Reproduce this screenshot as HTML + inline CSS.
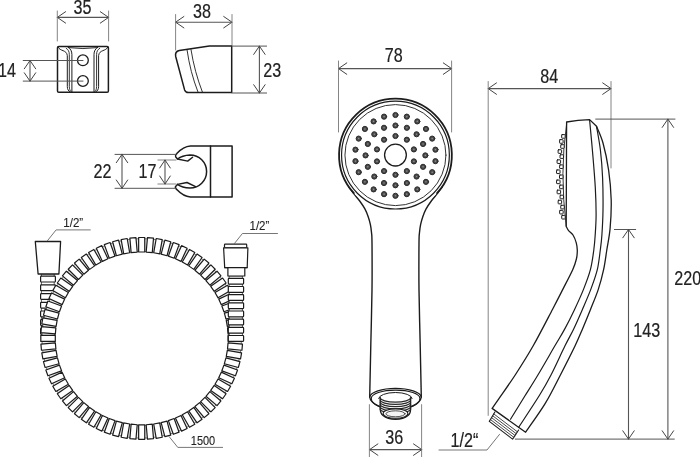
<!DOCTYPE html>
<html><head><meta charset="utf-8"><title>Shower set dimensions</title>
<style>
html,body{margin:0;padding:0;background:#fff;}
body{width:700px;height:457px;overflow:hidden;font-family:"Liberation Sans",sans-serif;}
svg{will-change:transform;display:block;font-family:"Liberation Sans",sans-serif;}
</style></head><body>
<svg width="700" height="457" viewBox="0 0 700 457" stroke-linecap="round" stroke-linejoin="round">
<rect width="700" height="457" fill="#fff"/>
<line x1="57.30" y1="17.40" x2="108.60" y2="17.40" stroke="#555" stroke-width="1.1"/>
<path d="M65.60,11.70 L57.30,17.40 L65.60,23.10" stroke="#444" stroke-width="1.0" fill="none" />
<path d="M100.30,23.10 L108.60,17.40 L100.30,11.70" stroke="#444" stroke-width="1.0" fill="none" />
<line x1="57.30" y1="11.00" x2="57.30" y2="41.00" stroke="#777" stroke-width="0.9"/>
<line x1="108.60" y1="11.00" x2="108.60" y2="41.00" stroke="#777" stroke-width="0.9"/>
<text transform="translate(82.50,13.50) scale(0.815,1)" font-size="19.8" text-anchor="middle" fill="#222" stroke="#222" stroke-width="0.2">35</text>
<path d="M58.8,46.4 H107.1 Q108.4,46.4 108.4,47.7 V91 Q108.4,92.3 107.1,92.3 H58.8 Q57.5,92.3 57.5,91 V47.7 Q57.5,46.4 58.8,46.4 Z" stroke="#1c1c1c" stroke-width="1.5" fill="none" />
<path d="M58.20,47.3 C60.00,51.5 66.50,49.5 67.30,55.5 V86.5 C67.30,89.5 68.50,91 70.00,91.8" stroke="#1c1c1c" stroke-width="1.0" fill="none" />
<path d="M66.20,48.3 C68.30,49.6 69.30,51.5 69.30,54.5 V86.5 C69.30,89 70.00,90.5 70.80,91.4" stroke="#1c1c1c" stroke-width="0.9" fill="none" />
<path d="M68.20,47.3 C70.50,48.8 71.90,51 71.90,54.5 V92" stroke="#1c1c1c" stroke-width="1.0" fill="none" />
<path d="M107.70,47.3 C105.90,51.5 99.40,49.5 98.60,55.5 V86.5 C98.60,89.5 97.40,91 95.90,91.8" stroke="#1c1c1c" stroke-width="1.0" fill="none" />
<path d="M99.70,48.3 C97.60,49.6 96.60,51.5 96.60,54.5 V86.5 C96.60,89 95.90,90.5 95.10,91.4" stroke="#1c1c1c" stroke-width="0.9" fill="none" />
<path d="M97.70,47.3 C95.40,48.8 94.00,51 94.00,54.5 V92" stroke="#1c1c1c" stroke-width="1.0" fill="none" />
<path d="M68.2,47.6 Q82.9,49.6 97.7,47.6" stroke="#1c1c1c" stroke-width="0.9" fill="none" />
<circle cx="82.9" cy="60.3" r="5.4" fill="#fff" stroke="#1c1c1c" stroke-width="1.3"/>
<circle cx="82.9" cy="81" r="5.4" fill="#fff" stroke="#1c1c1c" stroke-width="1.3"/>
<line x1="23.20" y1="60.50" x2="83.00" y2="60.50" stroke="#555" stroke-width="1.0"/>
<line x1="23.20" y1="81.10" x2="83.00" y2="81.10" stroke="#555" stroke-width="1.0"/>
<line x1="30.00" y1="60.50" x2="30.00" y2="81.10" stroke="#555" stroke-width="1.1"/>
<path d="M35.70,68.80 L30.00,60.50 L24.30,68.80" stroke="#444" stroke-width="1.0" fill="none" />
<path d="M24.30,72.80 L30.00,81.10 L35.70,72.80" stroke="#444" stroke-width="1.0" fill="none" />
<text transform="translate(-2.00,77.00) scale(0.815,1)" font-size="19.8" text-anchor="start" fill="#222" stroke="#222" stroke-width="0.2">14</text>
<line x1="175.60" y1="22.20" x2="232.00" y2="22.20" stroke="#555" stroke-width="1.1"/>
<path d="M183.90,16.50 L175.60,22.20 L183.90,27.90" stroke="#444" stroke-width="1.0" fill="none" />
<path d="M223.70,27.90 L232.00,22.20 L223.70,16.50" stroke="#444" stroke-width="1.0" fill="none" />
<line x1="175.60" y1="14.50" x2="175.60" y2="50.00" stroke="#777" stroke-width="0.9"/>
<line x1="232.00" y1="14.50" x2="232.00" y2="45.00" stroke="#777" stroke-width="0.9"/>
<text transform="translate(202.00,18.20) scale(0.815,1)" font-size="19.8" text-anchor="middle" fill="#222" stroke="#222" stroke-width="0.2">38</text>
<path d="M179.3,50.6 L209.4,46 H231.7 V92.5 H188.3 Q185.6,92.5 184.6,89.9 L175.7,56.5 Q174.7,51.6 179.3,50.6 Z" stroke="#1c1c1c" stroke-width="1.5" fill="none" />
<path d="M187.1,50.2 Q190.2,72 197.9,91.8" stroke="#1c1c1c" stroke-width="0.9" fill="none" />
<path d="M191,49.6 Q194.6,72 202.3,91.8" stroke="#1c1c1c" stroke-width="0.9" fill="none" />
<line x1="232.00" y1="46.10" x2="266.60" y2="46.10" stroke="#555" stroke-width="1.0"/>
<line x1="232.00" y1="93.00" x2="266.60" y2="93.00" stroke="#555" stroke-width="1.0"/>
<line x1="259.40" y1="46.10" x2="259.40" y2="93.00" stroke="#555" stroke-width="1.1"/>
<path d="M265.10,54.40 L259.40,46.10 L253.70,54.40" stroke="#444" stroke-width="1.0" fill="none" />
<path d="M253.70,84.70 L259.40,93.00 L265.10,84.70" stroke="#444" stroke-width="1.0" fill="none" />
<text transform="translate(263.20,77.00) scale(0.815,1)" font-size="19.8" text-anchor="start" fill="#222" stroke="#222" stroke-width="0.2">23</text>
<path d="M210.5,146.1 H232.1 V197 H210.5 Z" stroke="#1c1c1c" stroke-width="1.5" fill="none" />
<path d="M210.5,146.1 H190.4 C185,146.4 179.8,150.4 176.8,153.6 C175.4,155 174.9,155.6 175.6,156.8 L177.5,159 C180.5,156.6 185,155.1 190,154.9 A16.4,16.4 0 0 1 190,188.1 C185,187.9 180.5,186.6 177.5,184.4 L175.6,186.4 C174.9,187.5 175.4,188.2 176.8,189.6 C179.8,192.8 185,196.7 190.4,197 H210.5" stroke="#1c1c1c" stroke-width="1.5" fill="none" />
<path d="M177.5,159 L187.7,161.1 L192.6,157.2" stroke="#1c1c1c" stroke-width="1.4" fill="none" />
<path d="M177.5,184.4 L187,182.5 L195.6,186.6" stroke="#1c1c1c" stroke-width="1.4" fill="none" />
<line x1="115.00" y1="154.40" x2="176.00" y2="154.40" stroke="#555" stroke-width="1.0"/>
<line x1="115.00" y1="188.30" x2="176.00" y2="188.30" stroke="#555" stroke-width="1.0"/>
<line x1="122.00" y1="154.40" x2="122.00" y2="188.30" stroke="#555" stroke-width="1.1"/>
<path d="M127.70,162.70 L122.00,154.40 L116.30,162.70" stroke="#444" stroke-width="1.0" fill="none" />
<path d="M116.30,180.00 L122.00,188.30 L127.70,180.00" stroke="#444" stroke-width="1.0" fill="none" />
<line x1="157.90" y1="160.00" x2="176.00" y2="160.00" stroke="#777" stroke-width="0.9"/>
<line x1="157.90" y1="184.00" x2="176.00" y2="184.00" stroke="#777" stroke-width="0.9"/>
<line x1="165.00" y1="160.00" x2="165.00" y2="184.00" stroke="#555" stroke-width="1.1"/>
<path d="M170.30,168.00 L165.00,160.00 L159.70,168.00" stroke="#444" stroke-width="1.0" fill="none" />
<path d="M159.70,176.00 L165.00,184.00 L170.30,176.00" stroke="#444" stroke-width="1.0" fill="none" />
<text transform="translate(93.50,177.70) scale(0.815,1)" font-size="19.8" text-anchor="start" fill="#222" stroke="#222" stroke-width="0.2">22</text>
<text transform="translate(138.50,177.70) scale(0.815,1)" font-size="19.8" text-anchor="start" fill="#222" stroke="#222" stroke-width="0.2">17</text>
<rect x="41.800000000000004" y="273.9" width="12.399999999999997" height="64.10000000000002" fill="#fff" stroke="#333" stroke-width="0.8"/>
<path d="M41.4,276.20 H54.6 Q55.4,276.20 55.4,277.00 V281.20 Q55.4,282.00 54.6,282.00 H41.4 Q40.6,282.00 40.6,281.20 V277.00 Q40.6,276.20 41.4,276.20 Z" stroke="#1c1c1c" stroke-width="1.2" fill="#fff" />
<path d="M41.4,284.90 H54.6 Q55.4,284.90 55.4,285.70 V289.90 Q55.4,290.70 54.6,290.70 H41.4 Q40.6,290.70 40.6,289.90 V285.70 Q40.6,284.90 41.4,284.90 Z" stroke="#1c1c1c" stroke-width="1.2" fill="#fff" />
<path d="M41.4,293.60 H54.6 Q55.4,293.60 55.4,294.40 V298.60 Q55.4,299.40 54.6,299.40 H41.4 Q40.6,299.40 40.6,298.60 V294.40 Q40.6,293.60 41.4,293.60 Z" stroke="#1c1c1c" stroke-width="1.2" fill="#fff" />
<path d="M41.4,302.30 H54.6 Q55.4,302.30 55.4,303.10 V307.30 Q55.4,308.10 54.6,308.10 H41.4 Q40.6,308.10 40.6,307.30 V303.10 Q40.6,302.30 41.4,302.30 Z" stroke="#1c1c1c" stroke-width="1.2" fill="#fff" />
<path d="M41.4,311.00 H54.6 Q55.4,311.00 55.4,311.80 V316.00 Q55.4,316.80 54.6,316.80 H41.4 Q40.6,316.80 40.6,316.00 V311.80 Q40.6,311.00 41.4,311.00 Z" stroke="#1c1c1c" stroke-width="1.2" fill="#fff" />
<path d="M41.4,319.70 H54.6 Q55.4,319.70 55.4,320.50 V324.70 Q55.4,325.50 54.6,325.50 H41.4 Q40.6,325.50 40.6,324.70 V320.50 Q40.6,319.70 41.4,319.70 Z" stroke="#1c1c1c" stroke-width="1.2" fill="#fff" />
<path d="M41.4,328.40 H54.6 Q55.4,328.40 55.4,329.20 V333.40 Q55.4,334.20 54.6,334.20 H41.4 Q40.6,334.20 40.6,333.40 V329.20 Q40.6,328.40 41.4,328.40 Z" stroke="#1c1c1c" stroke-width="1.2" fill="#fff" />
<path d="M143.31,250.99 L143.85,238.70 L148.25,238.89 L147.71,251.18 Z" stroke="#444" stroke-width="0.7" fill="#ececec" />
<path d="M150.93,251.46 L152.53,239.27 L156.89,239.84 L155.29,252.03 Z" stroke="#444" stroke-width="0.7" fill="#ececec" />
<path d="M158.47,252.60 L161.13,240.59 L165.43,241.54 L162.76,253.55 Z" stroke="#444" stroke-width="0.7" fill="#ececec" />
<path d="M165.88,254.38 L169.58,242.65 L173.78,243.98 L170.08,255.71 Z" stroke="#444" stroke-width="0.7" fill="#ececec" />
<path d="M173.11,256.81 L177.82,245.45 L181.89,247.13 L177.18,258.49 Z" stroke="#444" stroke-width="0.7" fill="#ececec" />
<path d="M180.11,259.86 L185.78,248.95 L189.69,250.98 L184.01,261.89 Z" stroke="#444" stroke-width="0.7" fill="#ececec" />
<path d="M186.80,263.51 L193.41,253.13 L197.12,255.50 L190.52,265.87 Z" stroke="#444" stroke-width="0.7" fill="#ececec" />
<path d="M193.16,267.72 L200.65,257.96 L204.14,260.64 L196.65,270.40 Z" stroke="#444" stroke-width="0.7" fill="#ececec" />
<path d="M199.12,272.48 L207.43,263.41 L210.68,266.38 L202.37,275.45 Z" stroke="#444" stroke-width="0.7" fill="#ececec" />
<path d="M204.65,277.73 L213.72,269.42 L216.69,272.67 L207.62,280.98 Z" stroke="#444" stroke-width="0.7" fill="#ececec" />
<path d="M209.70,283.45 L219.46,275.96 L222.14,279.45 L212.38,286.94 Z" stroke="#444" stroke-width="0.7" fill="#ececec" />
<path d="M214.23,289.58 L224.60,282.98 L226.97,286.69 L216.59,293.30 Z" stroke="#444" stroke-width="0.7" fill="#ececec" />
<path d="M218.21,296.09 L229.12,290.41 L231.15,294.32 L220.24,299.99 Z" stroke="#444" stroke-width="0.7" fill="#ececec" />
<path d="M221.61,302.92 L232.97,298.21 L234.65,302.28 L223.29,306.99 Z" stroke="#444" stroke-width="0.7" fill="#ececec" />
<path d="M224.39,310.02 L236.12,306.32 L237.45,310.52 L225.72,314.22 Z" stroke="#444" stroke-width="0.7" fill="#ececec" />
<path d="M226.55,317.34 L238.56,314.67 L239.51,318.97 L227.50,321.63 Z" stroke="#444" stroke-width="0.7" fill="#ececec" />
<path d="M228.07,324.81 L240.26,323.21 L240.83,327.57 L228.64,329.17 Z" stroke="#444" stroke-width="0.7" fill="#ececec" />
<path d="M228.92,332.39 L241.21,331.85 L241.40,336.25 L229.11,336.79 Z" stroke="#444" stroke-width="0.7" fill="#ececec" />
<path d="M229.11,340.01 L241.40,340.55 L241.21,344.95 L228.92,344.41 Z" stroke="#444" stroke-width="0.7" fill="#ececec" />
<path d="M228.64,347.63 L240.83,349.23 L240.26,353.59 L228.07,351.99 Z" stroke="#444" stroke-width="0.7" fill="#ececec" />
<path d="M227.50,355.17 L239.51,357.83 L238.56,362.13 L226.55,359.46 Z" stroke="#444" stroke-width="0.7" fill="#ececec" />
<path d="M225.72,362.58 L237.45,366.28 L236.12,370.48 L224.39,366.78 Z" stroke="#444" stroke-width="0.7" fill="#ececec" />
<path d="M223.29,369.81 L234.65,374.52 L232.97,378.59 L221.61,373.88 Z" stroke="#444" stroke-width="0.7" fill="#ececec" />
<path d="M220.24,376.81 L231.15,382.48 L229.12,386.39 L218.21,380.71 Z" stroke="#444" stroke-width="0.7" fill="#ececec" />
<path d="M216.59,383.50 L226.97,390.11 L224.60,393.82 L214.23,387.22 Z" stroke="#444" stroke-width="0.7" fill="#ececec" />
<path d="M212.38,389.86 L222.14,397.35 L219.46,400.84 L209.70,393.35 Z" stroke="#444" stroke-width="0.7" fill="#ececec" />
<path d="M207.62,395.82 L216.69,404.13 L213.72,407.38 L204.65,399.07 Z" stroke="#444" stroke-width="0.7" fill="#ececec" />
<path d="M202.37,401.35 L210.68,410.42 L207.43,413.39 L199.12,404.32 Z" stroke="#444" stroke-width="0.7" fill="#ececec" />
<path d="M196.65,406.40 L204.14,416.16 L200.65,418.84 L193.16,409.08 Z" stroke="#444" stroke-width="0.7" fill="#ececec" />
<path d="M190.52,410.93 L197.12,421.30 L193.41,423.67 L186.80,413.29 Z" stroke="#444" stroke-width="0.7" fill="#ececec" />
<path d="M184.01,414.91 L189.69,425.82 L185.78,427.85 L180.11,416.94 Z" stroke="#444" stroke-width="0.7" fill="#ececec" />
<path d="M177.18,418.31 L181.89,429.67 L177.82,431.35 L173.11,419.99 Z" stroke="#444" stroke-width="0.7" fill="#ececec" />
<path d="M170.08,421.09 L173.78,432.82 L169.58,434.15 L165.88,422.42 Z" stroke="#444" stroke-width="0.7" fill="#ececec" />
<path d="M162.76,423.25 L165.43,435.26 L161.13,436.21 L158.47,424.20 Z" stroke="#444" stroke-width="0.7" fill="#ececec" />
<path d="M155.29,424.77 L156.89,436.96 L152.53,437.53 L150.93,425.34 Z" stroke="#444" stroke-width="0.7" fill="#ececec" />
<path d="M147.71,425.62 L148.25,437.91 L143.85,438.10 L143.31,425.81 Z" stroke="#444" stroke-width="0.7" fill="#ececec" />
<path d="M140.09,425.81 L139.55,438.10 L135.15,437.91 L135.69,425.62 Z" stroke="#444" stroke-width="0.7" fill="#ececec" />
<path d="M132.47,425.34 L130.87,437.53 L126.51,436.96 L128.11,424.77 Z" stroke="#444" stroke-width="0.7" fill="#ececec" />
<path d="M124.93,424.20 L122.27,436.21 L117.97,435.26 L120.64,423.25 Z" stroke="#444" stroke-width="0.7" fill="#ececec" />
<path d="M117.52,422.42 L113.82,434.15 L109.62,432.82 L113.32,421.09 Z" stroke="#444" stroke-width="0.7" fill="#ececec" />
<path d="M110.29,419.99 L105.58,431.35 L101.51,429.67 L106.22,418.31 Z" stroke="#444" stroke-width="0.7" fill="#ececec" />
<path d="M103.29,416.94 L97.62,427.85 L93.71,425.82 L99.39,414.91 Z" stroke="#444" stroke-width="0.7" fill="#ececec" />
<path d="M96.60,413.29 L89.99,423.67 L86.28,421.30 L92.88,410.93 Z" stroke="#444" stroke-width="0.7" fill="#ececec" />
<path d="M90.24,409.08 L82.75,418.84 L79.26,416.16 L86.75,406.40 Z" stroke="#444" stroke-width="0.7" fill="#ececec" />
<path d="M84.28,404.32 L75.97,413.39 L72.72,410.42 L81.03,401.35 Z" stroke="#444" stroke-width="0.7" fill="#ececec" />
<path d="M78.75,399.07 L69.68,407.38 L66.71,404.13 L75.78,395.82 Z" stroke="#444" stroke-width="0.7" fill="#ececec" />
<path d="M73.70,393.35 L63.94,400.84 L61.26,397.35 L71.02,389.86 Z" stroke="#444" stroke-width="0.7" fill="#ececec" />
<path d="M69.17,387.22 L58.80,393.82 L56.43,390.11 L66.81,383.50 Z" stroke="#444" stroke-width="0.7" fill="#ececec" />
<path d="M65.19,380.71 L54.28,386.39 L52.25,382.48 L63.16,376.81 Z" stroke="#444" stroke-width="0.7" fill="#ececec" />
<path d="M61.79,373.88 L50.43,378.59 L48.75,374.52 L60.11,369.81 Z" stroke="#444" stroke-width="0.7" fill="#ececec" />
<path d="M59.01,366.78 L47.28,370.48 L45.95,366.28 L57.68,362.58 Z" stroke="#444" stroke-width="0.7" fill="#ececec" />
<path d="M56.85,359.46 L44.84,362.13 L43.89,357.83 L55.90,355.17 Z" stroke="#444" stroke-width="0.7" fill="#ececec" />
<path d="M55.33,351.99 L43.14,353.59 L42.57,349.23 L54.76,347.63 Z" stroke="#444" stroke-width="0.7" fill="#ececec" />
<path d="M54.48,344.41 L42.19,344.95 L42.00,340.55 L54.29,340.01 Z" stroke="#444" stroke-width="0.7" fill="#ececec" />
<path d="M54.29,336.79 L42.00,336.25 L42.19,331.85 L54.48,332.39 Z" stroke="#444" stroke-width="0.7" fill="#ececec" />
<path d="M54.76,329.17 L42.57,327.57 L43.14,323.21 L55.33,324.81 Z" stroke="#444" stroke-width="0.7" fill="#ececec" />
<path d="M55.90,321.63 L43.89,318.97 L44.84,314.67 L56.85,317.34 Z" stroke="#444" stroke-width="0.7" fill="#ececec" />
<path d="M57.68,314.22 L45.95,310.52 L47.28,306.32 L59.01,310.02 Z" stroke="#444" stroke-width="0.7" fill="#ececec" />
<path d="M60.11,306.99 L48.75,302.28 L50.43,298.21 L61.79,302.92 Z" stroke="#444" stroke-width="0.7" fill="#ececec" />
<path d="M63.16,299.99 L52.25,294.32 L54.28,290.41 L65.19,296.09 Z" stroke="#444" stroke-width="0.7" fill="#ececec" />
<path d="M66.81,293.30 L56.43,286.69 L58.80,282.98 L69.17,289.58 Z" stroke="#444" stroke-width="0.7" fill="#ececec" />
<path d="M71.02,286.94 L61.26,279.45 L63.94,275.96 L73.70,283.45 Z" stroke="#444" stroke-width="0.7" fill="#ececec" />
<path d="M75.78,280.98 L66.71,272.67 L69.68,269.42 L78.75,277.73 Z" stroke="#444" stroke-width="0.7" fill="#ececec" />
<path d="M81.03,275.45 L72.72,266.38 L75.97,263.41 L84.28,272.48 Z" stroke="#444" stroke-width="0.7" fill="#ececec" />
<path d="M86.75,270.40 L79.26,260.64 L82.75,257.96 L90.24,267.72 Z" stroke="#444" stroke-width="0.7" fill="#ececec" />
<path d="M92.88,265.87 L86.28,255.50 L89.99,253.13 L96.60,263.51 Z" stroke="#444" stroke-width="0.7" fill="#ececec" />
<path d="M99.39,261.89 L93.71,250.98 L97.62,248.95 L103.29,259.86 Z" stroke="#444" stroke-width="0.7" fill="#ececec" />
<path d="M106.22,258.49 L101.51,247.13 L105.58,245.45 L110.29,256.81 Z" stroke="#444" stroke-width="0.7" fill="#ececec" />
<path d="M113.32,255.71 L109.62,243.98 L113.82,242.65 L117.52,254.38 Z" stroke="#444" stroke-width="0.7" fill="#ececec" />
<path d="M120.64,253.55 L117.97,241.54 L122.27,240.59 L124.93,252.60 Z" stroke="#444" stroke-width="0.7" fill="#ececec" />
<path d="M128.11,252.03 L126.51,239.84 L130.87,239.27 L132.47,251.46 Z" stroke="#444" stroke-width="0.7" fill="#ececec" />
<path d="M135.69,251.18 L135.15,238.89 L139.55,238.70 L140.09,250.99 Z" stroke="#444" stroke-width="0.7" fill="#ececec" />
<path d="M138.65,252.00 L138.65,237.50 L144.75,237.50 L144.75,252.00 Z" stroke="#1c1c1c" stroke-width="1.2" fill="#fff" />
<path d="M146.19,252.06 L147.46,237.62 L153.53,238.15 L152.27,252.59 Z" stroke="#1c1c1c" stroke-width="1.2" fill="#fff" />
<path d="M153.70,252.78 L156.22,238.50 L162.22,239.56 L159.71,253.84 Z" stroke="#1c1c1c" stroke-width="1.2" fill="#fff" />
<path d="M161.12,254.15 L164.87,240.15 L170.76,241.73 L167.01,255.73 Z" stroke="#1c1c1c" stroke-width="1.2" fill="#fff" />
<path d="M168.38,256.17 L173.34,242.54 L179.08,244.63 L174.12,258.25 Z" stroke="#1c1c1c" stroke-width="1.2" fill="#fff" />
<path d="M175.45,258.81 L181.58,245.66 L187.11,248.24 L180.98,261.38 Z" stroke="#1c1c1c" stroke-width="1.2" fill="#fff" />
<path d="M182.26,262.05 L189.51,249.49 L194.79,252.54 L187.54,265.10 Z" stroke="#1c1c1c" stroke-width="1.2" fill="#fff" />
<path d="M188.76,265.88 L197.08,254.00 L202.07,257.50 L193.76,269.37 Z" stroke="#1c1c1c" stroke-width="1.2" fill="#fff" />
<path d="M194.90,270.25 L204.22,259.15 L208.89,263.07 L199.57,274.17 Z" stroke="#1c1c1c" stroke-width="1.2" fill="#fff" />
<path d="M200.64,275.15 L210.89,264.90 L215.20,269.21 L204.95,279.46 Z" stroke="#1c1c1c" stroke-width="1.2" fill="#fff" />
<path d="M205.93,280.53 L217.03,271.21 L220.95,275.88 L209.85,285.20 Z" stroke="#1c1c1c" stroke-width="1.2" fill="#fff" />
<path d="M210.73,286.34 L222.60,278.03 L226.10,283.02 L214.22,291.34 Z" stroke="#1c1c1c" stroke-width="1.2" fill="#fff" />
<path d="M215.00,292.56 L227.56,285.31 L230.61,290.59 L218.05,297.84 Z" stroke="#1c1c1c" stroke-width="1.2" fill="#fff" />
<path d="M218.72,299.12 L231.86,292.99 L234.44,298.52 L221.29,304.65 Z" stroke="#1c1c1c" stroke-width="1.2" fill="#fff" />
<path d="M221.85,305.98 L235.47,301.02 L237.56,306.76 L223.93,311.72 Z" stroke="#1c1c1c" stroke-width="1.2" fill="#fff" />
<path d="M224.37,313.09 L238.37,309.34 L239.95,315.23 L225.95,318.98 Z" stroke="#1c1c1c" stroke-width="1.2" fill="#fff" />
<path d="M226.26,320.39 L240.54,317.88 L241.60,323.88 L227.32,326.40 Z" stroke="#1c1c1c" stroke-width="1.2" fill="#fff" />
<path d="M227.51,327.83 L241.95,326.57 L242.48,332.64 L228.04,333.91 Z" stroke="#1c1c1c" stroke-width="1.2" fill="#fff" />
<path d="M228.10,335.35 L242.60,335.35 L242.60,341.45 L228.10,341.45 Z" stroke="#1c1c1c" stroke-width="1.2" fill="#fff" />
<path d="M228.04,342.89 L242.48,344.16 L241.95,350.23 L227.51,348.97 Z" stroke="#1c1c1c" stroke-width="1.2" fill="#fff" />
<path d="M227.32,350.40 L241.60,352.92 L240.54,358.92 L226.26,356.41 Z" stroke="#1c1c1c" stroke-width="1.2" fill="#fff" />
<path d="M225.95,357.82 L239.95,361.57 L238.37,367.46 L224.37,363.71 Z" stroke="#1c1c1c" stroke-width="1.2" fill="#fff" />
<path d="M223.93,365.08 L237.56,370.04 L235.47,375.78 L221.85,370.82 Z" stroke="#1c1c1c" stroke-width="1.2" fill="#fff" />
<path d="M221.29,372.15 L234.44,378.28 L231.86,383.81 L218.72,377.68 Z" stroke="#1c1c1c" stroke-width="1.2" fill="#fff" />
<path d="M218.05,378.96 L230.61,386.21 L227.56,391.49 L215.00,384.24 Z" stroke="#1c1c1c" stroke-width="1.2" fill="#fff" />
<path d="M214.22,385.46 L226.10,393.78 L222.60,398.77 L210.73,390.46 Z" stroke="#1c1c1c" stroke-width="1.2" fill="#fff" />
<path d="M209.85,391.60 L220.95,400.92 L217.03,405.59 L205.93,396.27 Z" stroke="#1c1c1c" stroke-width="1.2" fill="#fff" />
<path d="M204.95,397.34 L215.20,407.59 L210.89,411.90 L200.64,401.65 Z" stroke="#1c1c1c" stroke-width="1.2" fill="#fff" />
<path d="M199.57,402.63 L208.89,413.73 L204.22,417.65 L194.90,406.55 Z" stroke="#1c1c1c" stroke-width="1.2" fill="#fff" />
<path d="M193.76,407.43 L202.07,419.30 L197.08,422.80 L188.76,410.92 Z" stroke="#1c1c1c" stroke-width="1.2" fill="#fff" />
<path d="M187.54,411.70 L194.79,424.26 L189.51,427.31 L182.26,414.75 Z" stroke="#1c1c1c" stroke-width="1.2" fill="#fff" />
<path d="M180.98,415.42 L187.11,428.56 L181.58,431.14 L175.45,417.99 Z" stroke="#1c1c1c" stroke-width="1.2" fill="#fff" />
<path d="M174.12,418.55 L179.08,432.17 L173.34,434.26 L168.38,420.63 Z" stroke="#1c1c1c" stroke-width="1.2" fill="#fff" />
<path d="M167.01,421.07 L170.76,435.07 L164.87,436.65 L161.12,422.65 Z" stroke="#1c1c1c" stroke-width="1.2" fill="#fff" />
<path d="M159.71,422.96 L162.22,437.24 L156.22,438.30 L153.70,424.02 Z" stroke="#1c1c1c" stroke-width="1.2" fill="#fff" />
<path d="M152.27,424.21 L153.53,438.65 L147.46,439.18 L146.19,424.74 Z" stroke="#1c1c1c" stroke-width="1.2" fill="#fff" />
<path d="M144.75,424.80 L144.75,439.30 L138.65,439.30 L138.65,424.80 Z" stroke="#1c1c1c" stroke-width="1.2" fill="#fff" />
<path d="M137.21,424.74 L135.94,439.18 L129.87,438.65 L131.13,424.21 Z" stroke="#1c1c1c" stroke-width="1.2" fill="#fff" />
<path d="M129.70,424.02 L127.18,438.30 L121.18,437.24 L123.69,422.96 Z" stroke="#1c1c1c" stroke-width="1.2" fill="#fff" />
<path d="M122.28,422.65 L118.53,436.65 L112.64,435.07 L116.39,421.07 Z" stroke="#1c1c1c" stroke-width="1.2" fill="#fff" />
<path d="M115.02,420.63 L110.06,434.26 L104.32,432.17 L109.28,418.55 Z" stroke="#1c1c1c" stroke-width="1.2" fill="#fff" />
<path d="M107.95,417.99 L101.82,431.14 L96.29,428.56 L102.42,415.42 Z" stroke="#1c1c1c" stroke-width="1.2" fill="#fff" />
<path d="M101.14,414.75 L93.89,427.31 L88.61,424.26 L95.86,411.70 Z" stroke="#1c1c1c" stroke-width="1.2" fill="#fff" />
<path d="M94.64,410.92 L86.32,422.80 L81.33,419.30 L89.64,407.43 Z" stroke="#1c1c1c" stroke-width="1.2" fill="#fff" />
<path d="M88.50,406.55 L79.18,417.65 L74.51,413.73 L83.83,402.63 Z" stroke="#1c1c1c" stroke-width="1.2" fill="#fff" />
<path d="M82.76,401.65 L72.51,411.90 L68.20,407.59 L78.45,397.34 Z" stroke="#1c1c1c" stroke-width="1.2" fill="#fff" />
<path d="M77.47,396.27 L66.37,405.59 L62.45,400.92 L73.55,391.60 Z" stroke="#1c1c1c" stroke-width="1.2" fill="#fff" />
<path d="M72.67,390.46 L60.80,398.77 L57.30,393.78 L69.18,385.46 Z" stroke="#1c1c1c" stroke-width="1.2" fill="#fff" />
<path d="M68.40,384.24 L55.84,391.49 L52.79,386.21 L65.35,378.96 Z" stroke="#1c1c1c" stroke-width="1.2" fill="#fff" />
<path d="M64.68,377.68 L51.54,383.81 L48.96,378.28 L62.11,372.15 Z" stroke="#1c1c1c" stroke-width="1.2" fill="#fff" />
<path d="M61.55,370.82 L47.93,375.78 L45.84,370.04 L59.47,365.08 Z" stroke="#1c1c1c" stroke-width="1.2" fill="#fff" />
<path d="M59.03,363.71 L45.03,367.46 L43.45,361.57 L57.45,357.82 Z" stroke="#1c1c1c" stroke-width="1.2" fill="#fff" />
<path d="M57.14,356.41 L42.86,358.92 L41.80,352.92 L56.08,350.40 Z" stroke="#1c1c1c" stroke-width="1.2" fill="#fff" />
<path d="M55.89,348.97 L41.45,350.23 L40.92,344.16 L55.36,342.89 Z" stroke="#1c1c1c" stroke-width="1.2" fill="#fff" />
<path d="M55.30,341.45 L40.80,341.45 L40.80,335.35 L55.30,335.35 Z" stroke="#1c1c1c" stroke-width="1.2" fill="#fff" />
<path d="M55.36,333.91 L40.92,332.64 L41.45,326.57 L55.89,327.83 Z" stroke="#1c1c1c" stroke-width="1.2" fill="#fff" />
<path d="M56.08,326.40 L41.80,323.88 L42.86,317.88 L57.14,320.39 Z" stroke="#1c1c1c" stroke-width="1.2" fill="#fff" />
<path d="M57.45,318.98 L43.45,315.23 L45.03,309.34 L59.03,313.09 Z" stroke="#1c1c1c" stroke-width="1.2" fill="#fff" />
<path d="M59.47,311.72 L45.84,306.76 L47.93,301.02 L61.55,305.98 Z" stroke="#1c1c1c" stroke-width="1.2" fill="#fff" />
<path d="M62.11,304.65 L48.96,298.52 L51.54,292.99 L64.68,299.12 Z" stroke="#1c1c1c" stroke-width="1.2" fill="#fff" />
<path d="M65.35,297.84 L52.79,290.59 L55.84,285.31 L68.40,292.56 Z" stroke="#1c1c1c" stroke-width="1.2" fill="#fff" />
<path d="M69.18,291.34 L57.30,283.02 L60.80,278.03 L72.67,286.34 Z" stroke="#1c1c1c" stroke-width="1.2" fill="#fff" />
<path d="M73.55,285.20 L62.45,275.88 L66.37,271.21 L77.47,280.53 Z" stroke="#1c1c1c" stroke-width="1.2" fill="#fff" />
<path d="M78.45,279.46 L68.20,269.21 L72.51,264.90 L82.76,275.15 Z" stroke="#1c1c1c" stroke-width="1.2" fill="#fff" />
<path d="M83.83,274.17 L74.51,263.07 L79.18,259.15 L88.50,270.25 Z" stroke="#1c1c1c" stroke-width="1.2" fill="#fff" />
<path d="M89.64,269.37 L81.33,257.50 L86.32,254.00 L94.64,265.88 Z" stroke="#1c1c1c" stroke-width="1.2" fill="#fff" />
<path d="M95.86,265.10 L88.61,252.54 L93.89,249.49 L101.14,262.05 Z" stroke="#1c1c1c" stroke-width="1.2" fill="#fff" />
<path d="M102.42,261.38 L96.29,248.24 L101.82,245.66 L107.95,258.81 Z" stroke="#1c1c1c" stroke-width="1.2" fill="#fff" />
<path d="M109.28,258.25 L104.32,244.63 L110.06,242.54 L115.02,256.17 Z" stroke="#1c1c1c" stroke-width="1.2" fill="#fff" />
<path d="M116.39,255.73 L112.64,241.73 L118.53,240.15 L122.28,254.15 Z" stroke="#1c1c1c" stroke-width="1.2" fill="#fff" />
<path d="M123.69,253.84 L121.18,239.56 L127.18,238.50 L129.70,252.78 Z" stroke="#1c1c1c" stroke-width="1.2" fill="#fff" />
<path d="M131.13,252.59 L129.87,238.15 L135.94,237.62 L137.21,252.06 Z" stroke="#1c1c1c" stroke-width="1.2" fill="#fff" />
<rect x="229.5" y="276" width="12.899999999999983" height="62.39999999999998" fill="#fff" stroke="#333" stroke-width="0.8"/>
<path d="M229.10000000000002,335.50 H242.79999999999998 Q243.6,335.50 243.6,336.30 V340.50 Q243.6,341.30 242.79999999999998,341.30 H229.10000000000002 Q228.3,341.30 228.3,340.50 V336.30 Q228.3,335.50 229.10000000000002,335.50 Z" stroke="#1c1c1c" stroke-width="1.2" fill="#fff" />
<path d="M229.10000000000002,327.33 H242.79999999999998 Q243.6,327.33 243.6,328.13 V332.33 Q243.6,333.13 242.79999999999998,333.13 H229.10000000000002 Q228.3,333.13 228.3,332.33 V328.13 Q228.3,327.33 229.10000000000002,327.33 Z" stroke="#1c1c1c" stroke-width="1.2" fill="#fff" />
<path d="M229.10000000000002,319.16 H242.79999999999998 Q243.6,319.16 243.6,319.96 V324.16 Q243.6,324.96 242.79999999999998,324.96 H229.10000000000002 Q228.3,324.96 228.3,324.16 V319.96 Q228.3,319.16 229.10000000000002,319.16 Z" stroke="#1c1c1c" stroke-width="1.2" fill="#fff" />
<path d="M229.10000000000002,310.99 H242.79999999999998 Q243.6,310.99 243.6,311.79 V315.99 Q243.6,316.79 242.79999999999998,316.79 H229.10000000000002 Q228.3,316.79 228.3,315.99 V311.79 Q228.3,310.99 229.10000000000002,310.99 Z" stroke="#1c1c1c" stroke-width="1.2" fill="#fff" />
<path d="M229.10000000000002,302.82 H242.79999999999998 Q243.6,302.82 243.6,303.62 V307.82 Q243.6,308.62 242.79999999999998,308.62 H229.10000000000002 Q228.3,308.62 228.3,307.82 V303.62 Q228.3,302.82 229.10000000000002,302.82 Z" stroke="#1c1c1c" stroke-width="1.2" fill="#fff" />
<path d="M229.10000000000002,294.65 H242.79999999999998 Q243.6,294.65 243.6,295.45 V299.65 Q243.6,300.45 242.79999999999998,300.45 H229.10000000000002 Q228.3,300.45 228.3,299.65 V295.45 Q228.3,294.65 229.10000000000002,294.65 Z" stroke="#1c1c1c" stroke-width="1.2" fill="#fff" />
<path d="M229.10000000000002,286.48 H242.79999999999998 Q243.6,286.48 243.6,287.28 V291.48 Q243.6,292.28 242.79999999999998,292.28 H229.10000000000002 Q228.3,292.28 228.3,291.48 V287.28 Q228.3,286.48 229.10000000000002,286.48 Z" stroke="#1c1c1c" stroke-width="1.2" fill="#fff" />
<path d="M229.10000000000002,278.31 H242.79999999999998 Q243.6,278.31 243.6,279.11 V283.31 Q243.6,284.11 242.79999999999998,284.11 H229.10000000000002 Q228.3,284.11 228.3,283.31 V279.11 Q228.3,278.31 229.10000000000002,278.31 Z" stroke="#1c1c1c" stroke-width="1.2" fill="#fff" />
<path d="M35.3,241.5 H60.6 L58.9,274 H38.1 Z" stroke="#1c1c1c" stroke-width="1.3" fill="#fff" />
<path d="M225.2,244.2 H246 Q246.7,244.2 246.7,244.9 V247.8 H224.5 V244.9 Q224.5,244.2 225.2,244.2 Z" stroke="#1c1c1c" stroke-width="1.2" fill="#fff" />
<path d="M223.6,247.8 H247.9 L247.2,267.6 H244.8 V276 H227.9 V267.6 H224.7 Z" stroke="#1c1c1c" stroke-width="1.2" fill="#fff" />
<line x1="224.70" y1="267.60" x2="247.20" y2="267.60" stroke="#1c1c1c" stroke-width="1.1"/>
<path d="M47.4,240.8 L56.1,229.9 H90.3" stroke="#666" stroke-width="0.9" fill="none" />
<text transform="translate(63.30,226.50) scale(0.92,1)" font-size="12.5" text-anchor="start" fill="#222" stroke="#222" stroke-width="0.1">1/2”</text>
<path d="M234.2,243.8 L242.4,233.5 H277.5" stroke="#666" stroke-width="0.9" fill="none" />
<text transform="translate(249.50,229.80) scale(0.92,1)" font-size="12.5" text-anchor="start" fill="#222" stroke="#222" stroke-width="0.1">1/2”</text>
<path d="M169.2,436.7 L177.8,447.4 H222.6" stroke="#666" stroke-width="0.9" fill="none" />
<text transform="translate(190.80,444.60) scale(0.9,1)" font-size="12.2" text-anchor="start" fill="#222" stroke="#222" stroke-width="0.1">1500</text>
<line x1="338.50" y1="68.60" x2="451.60" y2="68.60" stroke="#555" stroke-width="1.1"/>
<path d="M346.80,62.90 L338.50,68.60 L346.80,74.30" stroke="#444" stroke-width="1.0" fill="none" />
<path d="M443.30,74.30 L451.60,68.60 L443.30,62.90" stroke="#444" stroke-width="1.0" fill="none" />
<line x1="338.50" y1="61.00" x2="338.50" y2="132.00" stroke="#777" stroke-width="0.9"/>
<line x1="451.60" y1="61.00" x2="451.60" y2="132.00" stroke="#777" stroke-width="0.9"/>
<text transform="translate(393.80,62.20) scale(0.815,1)" font-size="19.8" text-anchor="middle" fill="#222" stroke="#222" stroke-width="0.2">78</text>
<path d="M349.00,187.00 C349.72,188.02 351.52,190.77 353.30,193.10 C355.08,195.43 357.77,198.37 359.70,201.00 C361.63,203.63 363.48,206.28 364.90,208.90 C366.32,211.52 367.28,214.08 368.20,216.70 C369.12,219.32 369.85,221.97 370.40,224.60 C370.95,227.23 371.23,229.43 371.50,232.50 C371.77,235.57 371.92,233.42 372.00,243.00 C372.08,252.58 372.20,273.00 372.00,290.00 C371.80,307.00 371.18,327.17 370.80,345.00 C370.42,362.83 369.88,388.33 369.70,397.00 A25.85,13 0 0 0 421.3,397 C421.12,388.33 420.58,362.83 420.20,345.00 C419.82,327.17 419.20,307.00 419.00,290.00 C418.80,273.00 418.92,252.58 419.00,243.00 C419.08,233.42 419.23,235.57 419.50,232.50 C419.77,229.43 420.05,227.23 420.60,224.60 C421.15,221.97 421.88,219.32 422.80,216.70 C423.72,214.08 424.68,211.52 426.10,208.90 C427.52,206.28 429.37,203.63 431.30,201.00 C433.23,198.37 435.92,195.43 437.70,193.10 C439.48,190.77 441.28,188.02 442.00,187.00 Z" stroke="#1c1c1c" stroke-width="1.4" fill="#fff" />
<circle cx="395.45" cy="155.1" r="56.4" fill="#fff" stroke="none"/>
<path d="M353.87,193.20 A56.4,56.4 0 1 1 437.03,193.20" stroke="#1c1c1c" stroke-width="1.8" fill="none" />
<circle cx="395.45" cy="155.1" r="53.9" fill="none" stroke="#1c1c1c" stroke-width="1.2"/>
<circle cx="395.45" cy="155.1" r="50.5" fill="none" stroke="#333" stroke-width="1.0"/>
<circle cx="395.45" cy="155.1" r="10.9" fill="#fff" stroke="#1c1c1c" stroke-width="1.3"/>
<circle cx="395.45" cy="136.00" r="2.6" fill="#4a4a4a" stroke="#2c2c2c" stroke-width="1.0"/>
<circle cx="395.45" cy="136.00" r="0.8" fill="#8c8c8c"/>
<circle cx="406.85" cy="139.71" r="2.6" fill="#4a4a4a" stroke="#2c2c2c" stroke-width="1.0"/>
<circle cx="406.85" cy="139.71" r="0.8" fill="#8c8c8c"/>
<circle cx="413.90" cy="149.41" r="2.6" fill="#4a4a4a" stroke="#2c2c2c" stroke-width="1.0"/>
<circle cx="413.90" cy="149.41" r="0.8" fill="#8c8c8c"/>
<circle cx="413.90" cy="161.39" r="2.6" fill="#4a4a4a" stroke="#2c2c2c" stroke-width="1.0"/>
<circle cx="413.90" cy="161.39" r="0.8" fill="#8c8c8c"/>
<circle cx="406.85" cy="171.09" r="2.6" fill="#4a4a4a" stroke="#2c2c2c" stroke-width="1.0"/>
<circle cx="406.85" cy="171.09" r="0.8" fill="#8c8c8c"/>
<circle cx="395.45" cy="174.80" r="2.6" fill="#4a4a4a" stroke="#2c2c2c" stroke-width="1.0"/>
<circle cx="395.45" cy="174.80" r="0.8" fill="#8c8c8c"/>
<circle cx="384.05" cy="171.09" r="2.6" fill="#4a4a4a" stroke="#2c2c2c" stroke-width="1.0"/>
<circle cx="384.05" cy="171.09" r="0.8" fill="#8c8c8c"/>
<circle cx="377.00" cy="161.39" r="2.6" fill="#4a4a4a" stroke="#2c2c2c" stroke-width="1.0"/>
<circle cx="377.00" cy="161.39" r="0.8" fill="#8c8c8c"/>
<circle cx="377.00" cy="149.41" r="2.6" fill="#4a4a4a" stroke="#2c2c2c" stroke-width="1.0"/>
<circle cx="377.00" cy="149.41" r="0.8" fill="#8c8c8c"/>
<circle cx="384.05" cy="139.71" r="2.6" fill="#4a4a4a" stroke="#2c2c2c" stroke-width="1.0"/>
<circle cx="384.05" cy="139.71" r="0.8" fill="#8c8c8c"/>
<circle cx="395.45" cy="125.50" r="2.6" fill="#4a4a4a" stroke="#2c2c2c" stroke-width="1.0"/>
<circle cx="395.45" cy="125.50" r="0.8" fill="#8c8c8c"/>
<circle cx="406.89" cy="127.78" r="2.6" fill="#4a4a4a" stroke="#2c2c2c" stroke-width="1.0"/>
<circle cx="406.89" cy="127.78" r="0.8" fill="#8c8c8c"/>
<circle cx="416.59" cy="134.26" r="2.6" fill="#4a4a4a" stroke="#2c2c2c" stroke-width="1.0"/>
<circle cx="416.59" cy="134.26" r="0.8" fill="#8c8c8c"/>
<circle cx="423.07" cy="143.96" r="2.6" fill="#4a4a4a" stroke="#2c2c2c" stroke-width="1.0"/>
<circle cx="423.07" cy="143.96" r="0.8" fill="#8c8c8c"/>
<circle cx="425.35" cy="155.40" r="2.6" fill="#4a4a4a" stroke="#2c2c2c" stroke-width="1.0"/>
<circle cx="425.35" cy="155.40" r="0.8" fill="#8c8c8c"/>
<circle cx="423.07" cy="166.84" r="2.6" fill="#4a4a4a" stroke="#2c2c2c" stroke-width="1.0"/>
<circle cx="423.07" cy="166.84" r="0.8" fill="#8c8c8c"/>
<circle cx="416.59" cy="176.54" r="2.6" fill="#4a4a4a" stroke="#2c2c2c" stroke-width="1.0"/>
<circle cx="416.59" cy="176.54" r="0.8" fill="#8c8c8c"/>
<circle cx="406.89" cy="183.02" r="2.6" fill="#4a4a4a" stroke="#2c2c2c" stroke-width="1.0"/>
<circle cx="406.89" cy="183.02" r="0.8" fill="#8c8c8c"/>
<circle cx="395.45" cy="185.30" r="2.6" fill="#4a4a4a" stroke="#2c2c2c" stroke-width="1.0"/>
<circle cx="395.45" cy="185.30" r="0.8" fill="#8c8c8c"/>
<circle cx="384.01" cy="183.02" r="2.6" fill="#4a4a4a" stroke="#2c2c2c" stroke-width="1.0"/>
<circle cx="384.01" cy="183.02" r="0.8" fill="#8c8c8c"/>
<circle cx="374.31" cy="176.54" r="2.6" fill="#4a4a4a" stroke="#2c2c2c" stroke-width="1.0"/>
<circle cx="374.31" cy="176.54" r="0.8" fill="#8c8c8c"/>
<circle cx="367.83" cy="166.84" r="2.6" fill="#4a4a4a" stroke="#2c2c2c" stroke-width="1.0"/>
<circle cx="367.83" cy="166.84" r="0.8" fill="#8c8c8c"/>
<circle cx="365.55" cy="155.40" r="2.6" fill="#4a4a4a" stroke="#2c2c2c" stroke-width="1.0"/>
<circle cx="365.55" cy="155.40" r="0.8" fill="#8c8c8c"/>
<circle cx="367.83" cy="143.96" r="2.6" fill="#4a4a4a" stroke="#2c2c2c" stroke-width="1.0"/>
<circle cx="367.83" cy="143.96" r="0.8" fill="#8c8c8c"/>
<circle cx="374.31" cy="134.26" r="2.6" fill="#4a4a4a" stroke="#2c2c2c" stroke-width="1.0"/>
<circle cx="374.31" cy="134.26" r="0.8" fill="#8c8c8c"/>
<circle cx="384.01" cy="127.78" r="2.6" fill="#4a4a4a" stroke="#2c2c2c" stroke-width="1.0"/>
<circle cx="384.01" cy="127.78" r="0.8" fill="#8c8c8c"/>
<circle cx="395.45" cy="115.00" r="2.6" fill="#4a4a4a" stroke="#2c2c2c" stroke-width="1.0"/>
<circle cx="395.45" cy="115.00" r="0.8" fill="#8c8c8c"/>
<circle cx="406.83" cy="116.64" r="2.6" fill="#4a4a4a" stroke="#2c2c2c" stroke-width="1.0"/>
<circle cx="406.83" cy="116.64" r="0.8" fill="#8c8c8c"/>
<circle cx="417.29" cy="121.41" r="2.6" fill="#4a4a4a" stroke="#2c2c2c" stroke-width="1.0"/>
<circle cx="417.29" cy="121.41" r="0.8" fill="#8c8c8c"/>
<circle cx="425.98" cy="128.94" r="2.6" fill="#4a4a4a" stroke="#2c2c2c" stroke-width="1.0"/>
<circle cx="425.98" cy="128.94" r="0.8" fill="#8c8c8c"/>
<circle cx="432.20" cy="138.62" r="2.6" fill="#4a4a4a" stroke="#2c2c2c" stroke-width="1.0"/>
<circle cx="432.20" cy="138.62" r="0.8" fill="#8c8c8c"/>
<circle cx="435.44" cy="149.65" r="2.6" fill="#4a4a4a" stroke="#2c2c2c" stroke-width="1.0"/>
<circle cx="435.44" cy="149.65" r="0.8" fill="#8c8c8c"/>
<circle cx="435.44" cy="161.15" r="2.6" fill="#4a4a4a" stroke="#2c2c2c" stroke-width="1.0"/>
<circle cx="435.44" cy="161.15" r="0.8" fill="#8c8c8c"/>
<circle cx="432.20" cy="172.18" r="2.6" fill="#4a4a4a" stroke="#2c2c2c" stroke-width="1.0"/>
<circle cx="432.20" cy="172.18" r="0.8" fill="#8c8c8c"/>
<circle cx="425.98" cy="181.86" r="2.6" fill="#4a4a4a" stroke="#2c2c2c" stroke-width="1.0"/>
<circle cx="425.98" cy="181.86" r="0.8" fill="#8c8c8c"/>
<circle cx="417.29" cy="189.39" r="2.6" fill="#4a4a4a" stroke="#2c2c2c" stroke-width="1.0"/>
<circle cx="417.29" cy="189.39" r="0.8" fill="#8c8c8c"/>
<circle cx="406.83" cy="194.16" r="2.6" fill="#4a4a4a" stroke="#2c2c2c" stroke-width="1.0"/>
<circle cx="406.83" cy="194.16" r="0.8" fill="#8c8c8c"/>
<circle cx="395.45" cy="195.80" r="2.6" fill="#4a4a4a" stroke="#2c2c2c" stroke-width="1.0"/>
<circle cx="395.45" cy="195.80" r="0.8" fill="#8c8c8c"/>
<circle cx="384.07" cy="194.16" r="2.6" fill="#4a4a4a" stroke="#2c2c2c" stroke-width="1.0"/>
<circle cx="384.07" cy="194.16" r="0.8" fill="#8c8c8c"/>
<circle cx="373.61" cy="189.39" r="2.6" fill="#4a4a4a" stroke="#2c2c2c" stroke-width="1.0"/>
<circle cx="373.61" cy="189.39" r="0.8" fill="#8c8c8c"/>
<circle cx="364.92" cy="181.86" r="2.6" fill="#4a4a4a" stroke="#2c2c2c" stroke-width="1.0"/>
<circle cx="364.92" cy="181.86" r="0.8" fill="#8c8c8c"/>
<circle cx="358.70" cy="172.18" r="2.6" fill="#4a4a4a" stroke="#2c2c2c" stroke-width="1.0"/>
<circle cx="358.70" cy="172.18" r="0.8" fill="#8c8c8c"/>
<circle cx="355.46" cy="161.15" r="2.6" fill="#4a4a4a" stroke="#2c2c2c" stroke-width="1.0"/>
<circle cx="355.46" cy="161.15" r="0.8" fill="#8c8c8c"/>
<circle cx="355.46" cy="149.65" r="2.6" fill="#4a4a4a" stroke="#2c2c2c" stroke-width="1.0"/>
<circle cx="355.46" cy="149.65" r="0.8" fill="#8c8c8c"/>
<circle cx="358.70" cy="138.62" r="2.6" fill="#4a4a4a" stroke="#2c2c2c" stroke-width="1.0"/>
<circle cx="358.70" cy="138.62" r="0.8" fill="#8c8c8c"/>
<circle cx="364.92" cy="128.94" r="2.6" fill="#4a4a4a" stroke="#2c2c2c" stroke-width="1.0"/>
<circle cx="364.92" cy="128.94" r="0.8" fill="#8c8c8c"/>
<circle cx="373.61" cy="121.41" r="2.6" fill="#4a4a4a" stroke="#2c2c2c" stroke-width="1.0"/>
<circle cx="373.61" cy="121.41" r="0.8" fill="#8c8c8c"/>
<circle cx="384.07" cy="116.64" r="2.6" fill="#4a4a4a" stroke="#2c2c2c" stroke-width="1.0"/>
<circle cx="384.07" cy="116.64" r="0.8" fill="#8c8c8c"/>
<path d="M369.7,397 A25.85,9.3 0 0 1 421.3,397" stroke="#1c1c1c" stroke-width="1.3" fill="none" />
<path d="M371.3,398.4 A24.3,8.3 0 0 1 419.9,398.4 A24.3,11 0 0 1 371.3,398.4 Z" stroke="#1c1c1c" stroke-width="1.1" fill="none" />
<path d="M378.6,398.6 A16.8,6.1 0 0 1 412.2,398.6" stroke="#1c1c1c" stroke-width="1.0" fill="none" />
<path d="M380.2,398 V409.5 C380.6,413 381.5,414.5 383,415.5 C389,420.5 402,420.5 408,415.5 C409.5,414.5 410.4,413 410.6,409.5 V398" stroke="#1c1c1c" stroke-width="1.3" fill="#fff" />
<path d="M380.2,397.60 A15.2,4.6 0 0 0 410.6,397.60" stroke="#2a2a2a" stroke-width="1.25" fill="none" />
<path d="M380.2,399.85 A15.2,4.6 0 0 0 410.6,399.85" stroke="#2a2a2a" stroke-width="1.25" fill="none" />
<path d="M380.2,402.10 A15.2,4.6 0 0 0 410.6,402.10" stroke="#2a2a2a" stroke-width="1.25" fill="none" />
<path d="M380.2,404.35 A15.2,4.6 0 0 0 410.6,404.35" stroke="#2a2a2a" stroke-width="1.25" fill="none" />
<path d="M380.2,406.60 A15.2,4.6 0 0 0 410.6,406.60" stroke="#2a2a2a" stroke-width="1.25" fill="none" />
<path d="M380.2,408.85 A15.2,4.6 0 0 0 410.6,408.85" stroke="#2a2a2a" stroke-width="1.25" fill="none" />
<ellipse cx="395.5" cy="413.6" rx="12.4" ry="4.7" fill="#fff" stroke="#1c1c1c" stroke-width="1.1"/>
<ellipse cx="395.5" cy="413.8" rx="9.6" ry="3" fill="#f3f3f3" stroke="#3a3a3a" stroke-width="0.9"/>
<line x1="369.60" y1="449.60" x2="421.80" y2="449.60" stroke="#555" stroke-width="1.1"/>
<path d="M377.90,443.90 L369.60,449.60 L377.90,455.30" stroke="#444" stroke-width="1.0" fill="none" />
<path d="M413.50,455.30 L421.80,449.60 L413.50,443.90" stroke="#444" stroke-width="1.0" fill="none" />
<line x1="369.40" y1="404.60" x2="369.40" y2="457.00" stroke="#777" stroke-width="0.9"/>
<line x1="421.60" y1="404.60" x2="421.60" y2="457.00" stroke="#777" stroke-width="0.9"/>
<text transform="translate(394.30,444.00) scale(0.815,1)" font-size="19.8" text-anchor="middle" fill="#222" stroke="#222" stroke-width="0.2">36</text>
<line x1="488.20" y1="88.60" x2="611.00" y2="88.60" stroke="#555" stroke-width="1.1"/>
<path d="M496.50,82.90 L488.20,88.60 L496.50,94.30" stroke="#444" stroke-width="1.0" fill="none" />
<path d="M602.70,94.30 L611.00,88.60 L602.70,82.90" stroke="#444" stroke-width="1.0" fill="none" />
<line x1="488.20" y1="81.50" x2="488.20" y2="415.40" stroke="#777" stroke-width="0.9"/>
<line x1="611.00" y1="81.50" x2="611.00" y2="168.00" stroke="#777" stroke-width="0.9"/>
<text transform="translate(549.30,82.60) scale(0.815,1)" font-size="19.8" text-anchor="middle" fill="#222" stroke="#222" stroke-width="0.2">84</text>
<line x1="595.70" y1="119.10" x2="675.00" y2="119.10" stroke="#555" stroke-width="1.0"/>
<line x1="667.90" y1="119.10" x2="667.90" y2="439.10" stroke="#555" stroke-width="1.1"/>
<path d="M673.60,127.40 L667.90,119.10 L662.20,127.40" stroke="#444" stroke-width="1.0" fill="none" />
<path d="M662.20,430.80 L667.90,439.10 L673.60,430.80" stroke="#444" stroke-width="1.0" fill="none" />
<line x1="614.40" y1="229.50" x2="635.70" y2="229.50" stroke="#555" stroke-width="1.0"/>
<line x1="628.50" y1="229.50" x2="628.50" y2="439.10" stroke="#555" stroke-width="1.1"/>
<path d="M634.20,237.80 L628.50,229.50 L622.80,237.80" stroke="#444" stroke-width="1.0" fill="none" />
<path d="M622.80,430.80 L628.50,439.10 L634.20,430.80" stroke="#444" stroke-width="1.0" fill="none" />
<line x1="515.30" y1="439.10" x2="674.30" y2="439.10" stroke="#555" stroke-width="1.0"/>
<text transform="translate(633.20,337.00) scale(0.815,1)" font-size="19.8" text-anchor="start" fill="#222" stroke="#222" stroke-width="0.2">143</text>
<text transform="translate(674.30,284.60) scale(0.815,1)" font-size="19.8" text-anchor="start" fill="#222" stroke="#222" stroke-width="0.2">220</text>
<path d="M566.6,122 Q578,119.8 589.6,119.6 L596.5,126.3 C597.58,129.08 600.98,135.72 603.00,143.00 C605.02,150.28 607.23,160.50 608.60,170.00 C609.97,179.50 610.95,190.27 611.20,200.00 C611.45,209.73 610.83,220.07 610.10,228.40 C609.37,236.73 607.88,243.12 606.80,250.00 C605.72,256.88 605.02,263.13 603.60,269.70 C602.18,276.27 600.47,282.82 598.30,289.40 C596.13,295.98 593.23,302.62 590.60,309.20 C587.97,315.78 585.08,322.80 582.50,328.90 C579.92,335.00 578.78,338.12 575.10,345.80 C571.42,353.48 565.40,365.35 560.40,375.00 C555.40,384.65 550.90,394.17 545.10,403.70 C539.30,413.23 528.85,427.45 525.60,432.20 L492.1,408.4 C493.18,406.85 494.75,404.67 498.60,399.10 C502.45,393.53 509.43,383.88 515.20,375.00 C520.97,366.12 526.97,356.77 533.20,345.80 C539.43,334.83 547.67,318.60 552.60,309.20 C557.53,299.80 559.45,295.98 562.80,289.40 C566.15,282.82 570.43,274.77 572.70,269.70 C574.97,264.63 575.63,262.23 576.40,259.00 C577.17,255.77 577.33,253.03 577.30,250.30 C577.27,247.57 576.92,245.15 576.20,242.60 C575.48,240.05 574.27,237.00 573.00,235.00 C571.73,233.00 569.73,232.02 568.60,230.60 C567.47,229.18 566.60,227.18 566.20,226.50 L566.6,122 Z" stroke="#1c1c1c" stroke-width="1.3" fill="#fff" />
<path d="M589.60,120.00 C590.10,125.42 591.65,141.23 592.60,152.50 C593.55,163.77 594.72,177.18 595.30,187.60 C595.88,198.02 596.12,207.10 596.10,215.00 C596.08,222.90 595.58,229.17 595.20,235.00 C594.82,240.83 594.60,244.22 593.80,250.00 C593.00,255.78 592.12,263.13 590.40,269.70 C588.68,276.27 586.12,282.82 583.50,289.40 C580.88,295.98 577.82,302.62 574.70,309.20 C571.58,315.78 568.10,322.80 564.80,328.90 C561.50,335.00 559.38,338.12 554.90,345.80 C550.42,353.48 542.93,366.58 537.90,375.00 C532.87,383.42 529.27,388.93 524.70,396.30 C520.13,403.67 512.87,415.38 510.50,419.20" stroke="#1c1c1c" stroke-width="1.2" fill="none" />
<path d="M596.50,126.30 C597.15,130.25 599.38,141.38 600.40,150.00 C601.42,158.62 602.17,168.00 602.60,178.00 C603.03,188.00 603.12,200.50 603.00,210.00 C602.88,219.50 602.35,228.33 601.90,235.00 C601.45,241.67 601.07,244.22 600.30,250.00 C599.53,255.78 598.88,263.13 597.30,269.70 C595.72,276.27 593.27,282.82 590.80,289.40 C588.33,295.98 585.35,302.62 582.50,309.20 C579.65,315.78 576.62,322.80 573.70,328.90 C570.78,335.00 568.78,338.12 565.00,345.80 C561.22,353.48 555.25,366.75 551.00,375.00 C546.75,383.25 544.90,386.57 539.50,395.30 C534.10,404.03 522.08,422.05 518.60,427.40" stroke="#1c1c1c" stroke-width="1.2" fill="none" />
<path d="M566.6,124 Q559.4,172 566.2,226" stroke="#1c1c1c" stroke-width="0.9" fill="none" />
<rect x="561.67" y="134.60" width="3.5" height="3.6" rx="0.5" fill="#fff" stroke="#1c1c1c" stroke-width="1.0"/>
<rect x="559.60" y="139.65" width="3.5" height="3.6" rx="0.5" fill="#fff" stroke="#1c1c1c" stroke-width="1.0"/>
<rect x="560.71" y="144.70" width="3.5" height="3.6" rx="0.5" fill="#fff" stroke="#1c1c1c" stroke-width="1.0"/>
<rect x="558.11" y="149.75" width="3.5" height="3.6" rx="0.5" fill="#fff" stroke="#1c1c1c" stroke-width="1.0"/>
<rect x="560.03" y="154.80" width="3.5" height="3.6" rx="0.5" fill="#fff" stroke="#1c1c1c" stroke-width="1.0"/>
<rect x="557.08" y="159.85" width="3.5" height="3.6" rx="0.5" fill="#fff" stroke="#1c1c1c" stroke-width="1.0"/>
<rect x="559.63" y="164.90" width="3.5" height="3.6" rx="0.5" fill="#fff" stroke="#1c1c1c" stroke-width="1.0"/>
<rect x="556.56" y="169.95" width="3.5" height="3.6" rx="0.5" fill="#fff" stroke="#1c1c1c" stroke-width="1.0"/>
<rect x="559.50" y="175.00" width="3.5" height="3.6" rx="0.5" fill="#fff" stroke="#1c1c1c" stroke-width="1.0"/>
<rect x="556.57" y="180.05" width="3.5" height="3.6" rx="0.5" fill="#fff" stroke="#1c1c1c" stroke-width="1.0"/>
<rect x="559.64" y="185.10" width="3.5" height="3.6" rx="0.5" fill="#fff" stroke="#1c1c1c" stroke-width="1.0"/>
<rect x="557.10" y="190.15" width="3.5" height="3.6" rx="0.5" fill="#fff" stroke="#1c1c1c" stroke-width="1.0"/>
<rect x="560.06" y="195.20" width="3.5" height="3.6" rx="0.5" fill="#fff" stroke="#1c1c1c" stroke-width="1.0"/>
<rect x="558.15" y="200.25" width="3.5" height="3.6" rx="0.5" fill="#fff" stroke="#1c1c1c" stroke-width="1.0"/>
<rect x="560.75" y="205.30" width="3.5" height="3.6" rx="0.5" fill="#fff" stroke="#1c1c1c" stroke-width="1.0"/>
<rect x="559.65" y="210.35" width="3.5" height="3.6" rx="0.5" fill="#fff" stroke="#1c1c1c" stroke-width="1.0"/>
<rect x="561.72" y="215.40" width="3.5" height="3.6" rx="0.5" fill="#fff" stroke="#1c1c1c" stroke-width="1.0"/>
<path d="M494.9,412 L489.3,421.4 L512.6,439.1 L518.6,430" stroke="#1c1c1c" stroke-width="1.1" fill="#fff" />
<line x1="493.78" y1="413.88" x2="517.40" y2="431.82" stroke="#333" stroke-width="0.9"/>
<line x1="492.66" y1="415.76" x2="516.20" y2="433.64" stroke="#333" stroke-width="0.9"/>
<line x1="491.54" y1="417.64" x2="515.00" y2="435.46" stroke="#333" stroke-width="0.9"/>
<line x1="490.42" y1="419.52" x2="513.80" y2="437.28" stroke="#333" stroke-width="0.9"/>
<path d="M499.5,434.4 L487,450 H439" stroke="#666" stroke-width="0.9" fill="none" />
<text transform="translate(450.50,446.80) scale(0.815,1)" font-size="19.8" text-anchor="start" fill="#222" stroke="#222" stroke-width="0.2">1/2“</text>
</svg>
</body></html>
